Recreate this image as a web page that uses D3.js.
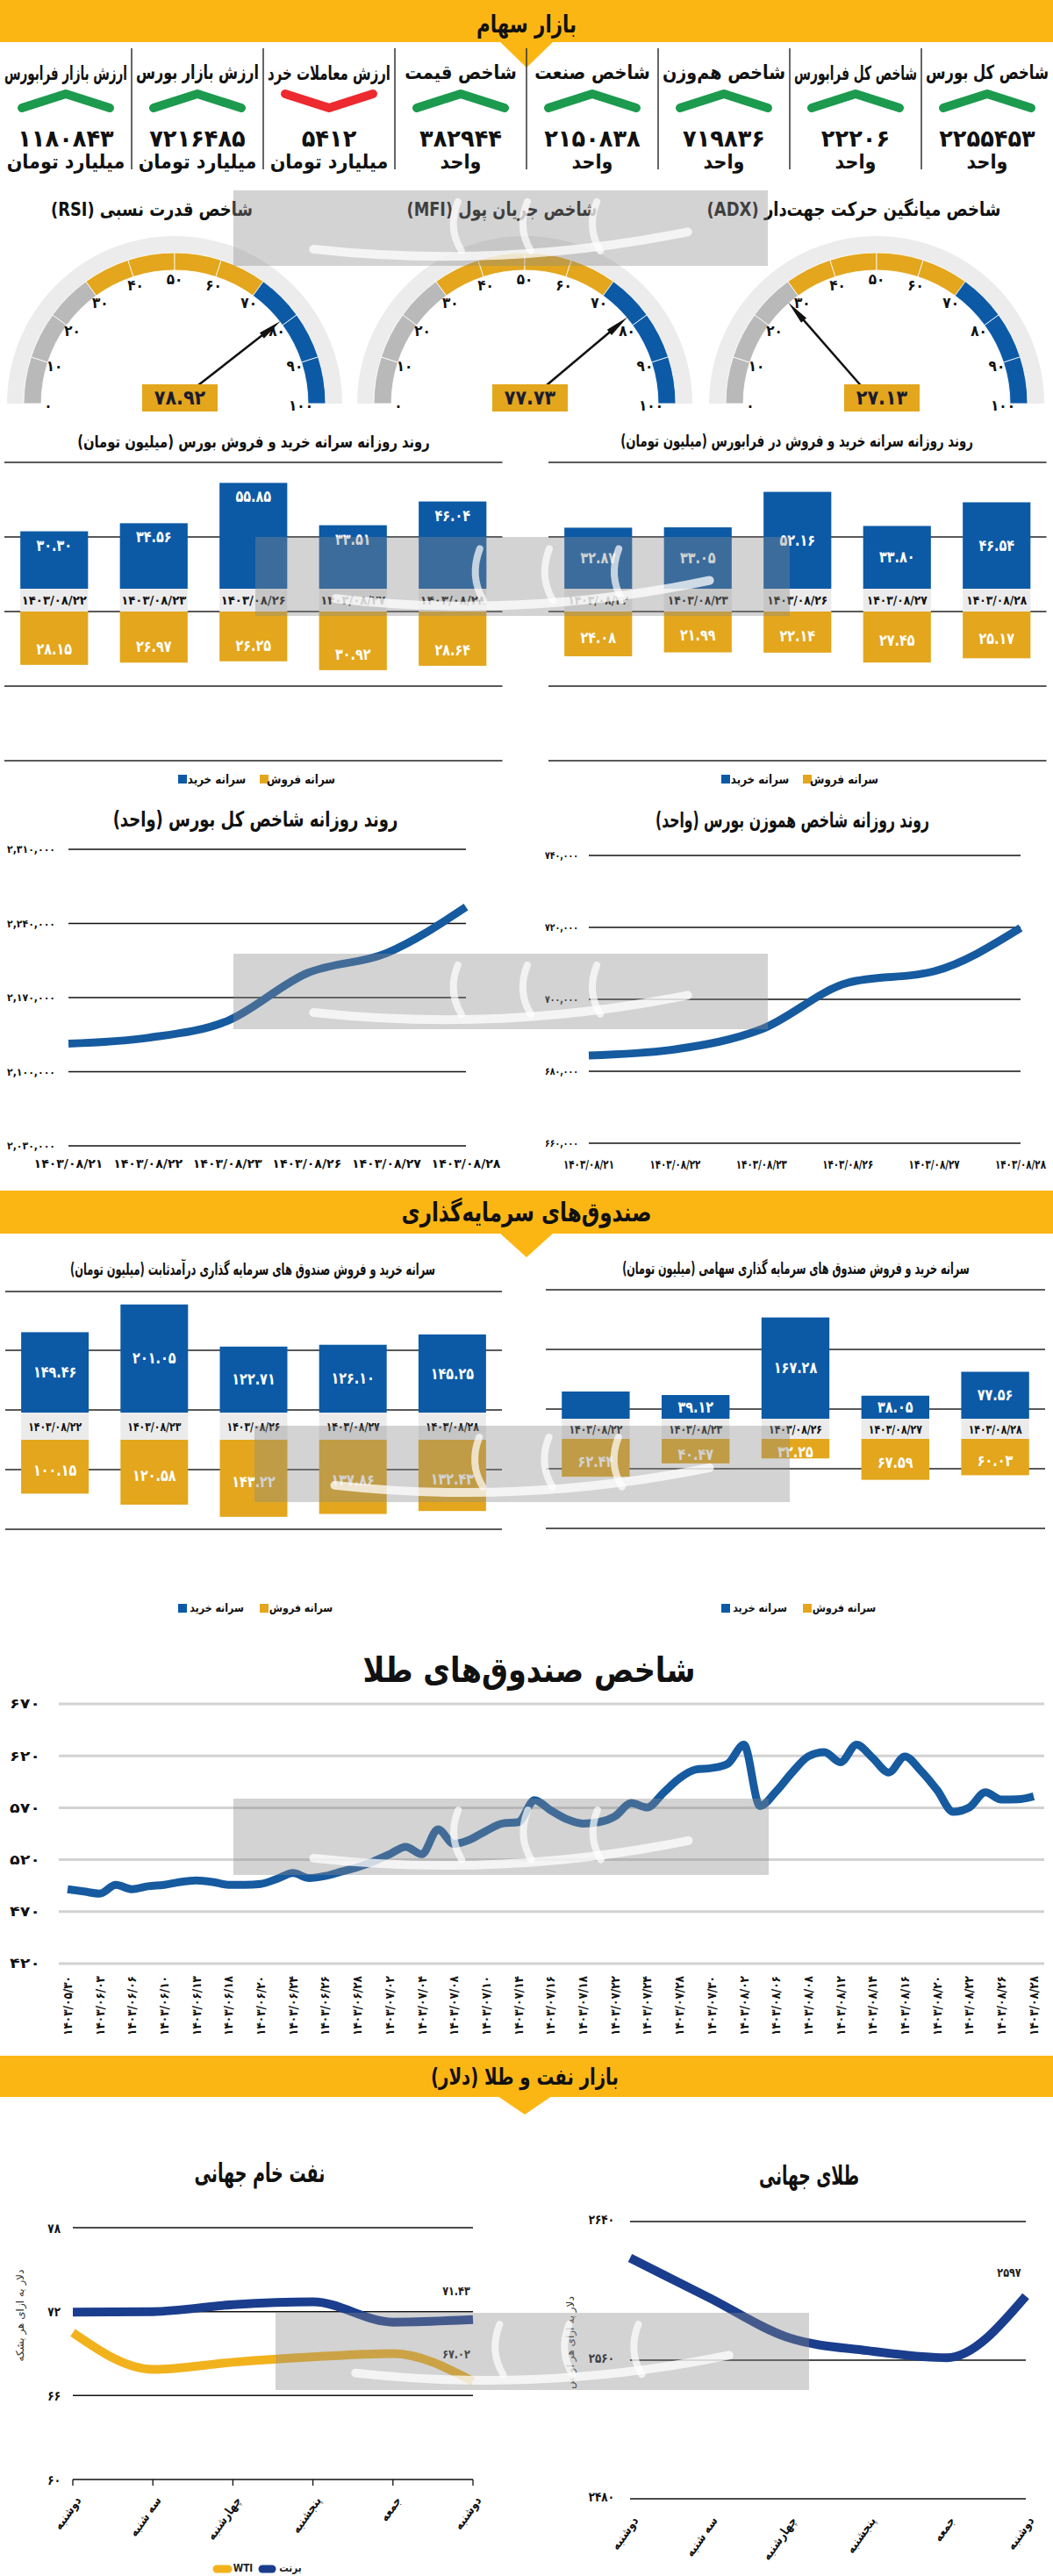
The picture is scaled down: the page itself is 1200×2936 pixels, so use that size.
<!DOCTYPE html>
<html><head><meta charset="utf-8">
<script src="https://cdn.jsdelivr.net/npm/d3@7"></script>
<style>
html,body{margin:0;padding:0;background:#fff;}
svg{display:block;}
text{font-family:"DejaVu Sans","Noto Sans",sans-serif;}
</style></head><body>
<svg id="c" width="1200" height="2936"></svg>
<script>
// ---------------- DATA ----------------
const kpiLabels = ["شاخص کل بورس","شاخص کل فرابورس","شاخص هم‌وزن","شاخص صنعت","شاخص قیمت","ارزش معاملات خرد","ارزش بازار بورس","ارزش بازار فرابورس"];
const kpiValues = [2255453, 22206, 719836, 2150838, 382944, 5412, 7216485, 1180843];
const kpiUnits = ["واحد","واحد","واحد","واحد","واحد","میلیارد تومان","میلیارد تومان","میلیارد تومان"];
const kpiTrend = ["up","up","up","up","up","down","up","up"];

const gaugeTitles = ["شاخص میانگین حرکت جهت‌دار (ADX)","شاخص جریان پول (MFI)","شاخص قدرت نسبی (RSI)"];
const gaugeValues = [27.13, 77.73, 78.92];
const gaugeTicks = [0,10,20,30,40,50,60,70,80,90,100];

const barDates = ["1403/08/22","1403/08/23","1403/08/26","1403/08/27","1403/08/28"];
const bourseBuy = [30.30, 34.56, 55.85, 33.51, 46.04];
const bourseSell = [28.15, 26.97, 26.25, 30.92, 28.64];
const faraBuy = [32.87, 33.05, 52.16, 33.80, 46.54];
const faraSell = [24.08, 21.99, 22.14, 27.45, 25.17];
const fixedBuy = [149.46, 201.05, 122.71, 126.10, 145.25];
const fixedSell = [100.15, 120.58, 143.22, 137.86, 132.43];
const equityBuy = [44.98, 39.12, 167.28, 38.05, 77.56];
const equitySell = [62.44, 40.47, 32.25, 67.59, 60.03];
const legendLabels = ["سرانه خرید","سرانه فروش"];

const lineDates = ["1403/08/21","1403/08/22","1403/08/23","1403/08/26","1403/08/27","1403/08/28"];
const tedpix = [2126500, 2132000, 2148000, 2193000, 2212000, 2255453];
const tedpixTicks = [2030000, 2100000, 2170000, 2240000, 2310000];
const eqIndex = [684400, 686100, 691700, 704600, 707800, 719836];
const eqIndexTicks = [660000, 680000, 700000, 720000, 740000];

const goldFundDates = ["1403/05/30","1403/06/03","1403/06/06","1403/06/10","1403/06/13","1403/06/18","1403/06/20","1403/06/24","1403/06/26","1403/06/28","1403/07/02","1403/07/04","1403/07/08","1403/07/10","1403/07/14","1403/07/16","1403/07/18","1403/07/22","1403/07/24","1403/07/28","1403/07/30","1403/08/02","1403/08/06","1403/08/08","1403/08/12","1403/08/14","1403/08/16","1403/08/20","1403/08/22","1403/08/26","1403/08/28"];
const goldFundValues = [491.6,489.4,487.4,495.8,491.6,494.4,495.8,498.6,500,498.6,
  495.8,495.8,496.7,501.5,507.1,502.3,504.3,508.5,512.7,518.3,
  525.3,532.4,525.3,549.2,535.2,539.4,547.8,554.8,556.2,577.3,
  567.5,559,554.8,556.2,561.8,574.5,570.3,584.3,598.4,606.8,
  608.2,612.4,630.7,571.7,585.7,604,619.4,623.6,613.8,630.7,
  618,604,619.4,605.4,587.1,566.1,570.3,584.9,577.9,578.1,581];
const goldFundTicks = [420,470,520,570,620,670];

const weekDays = ["دوشنبه","سه شنبه","چهارشنبه","پنجشنبه","جمعه","دوشنبه"];
const brent = [71.96, 72.0, 72.5, 72.7, 71.25, 71.43];
const wti = [70.5, 67.87, 68.38, 68.76, 69.0, 67.02];
const oilTicks = [60, 66, 72, 78];
const goldPrice = [2619, 2596, 2573, 2565.5, 2561.4, 2597];
const goldTicks = [2480, 2560, 2640];

// ---------------- STYLE ----------------
const YEL="#fcb614", BLUE="#0c5aa6", GOLD="#e3a61c", GREY="#b9b9b9", HALO="#ececec",
      GREEN="#1c9a4e", RED="#ec2a2f", NAVY="#1b3d8d", LINE="#165a9f", WTIC="#f2b21c", BAND="#ebebeb";

const svg = d3.select("#c");
svg.append("rect").attr("width",1200).attr("height",2936).attr("fill","#fff");
const FA="۰۱۲۳۴۵۶۷۸۹";
const fa = s => String(s).replace(/[0-9]/g, d => FA[+d]);

function T(g, x, y, str, o={}) {
  const s = o.rtl ? "\u202B"+str+"\u202C" : str;
  const t = g.append("text")
    .attr("text-anchor", o.anchor||"middle")
    .attr("dominant-baseline","central")
    .style("font-size",(o.size||14)+"px")
    .style("font-weight",o.weight||"bold")
    .attr("fill",o.fill||"#111")
    .text(s);
  let sx = o.sx||1;
  const w = t.node().getComputedTextLength();
  if (o.w && w>0) sx = o.w/w;
  if (o.maxW && w*sx>o.maxW) sx = o.maxW/w;
  t.attr("transform",`translate(${x},${y})`+(o.rot?` rotate(${o.rot})`:"")+` scale(${sx},1)`);
  if (o.op!=null) t.attr("opacity",o.op);
  return t;
}

// ---------------- HEADERS ----------------
function header(y0,y1,apex,cx,title,size,w,ty){
  svg.append("rect").attr("x",0).attr("y",y0).attr("width",1200).attr("height",y1-y0).attr("fill",YEL);
  svg.append("path").attr("d",`M${cx-31},${y1-1}L${cx+31},${y1-1}L${cx},${apex}Z`).attr("fill",YEL);
  T(svg,cx,ty,title,{size,w,rtl:true});
}
header(0,48,77,600,"بازار سهام",28,114,27);
header(1357,1406,1433,600,"صندوق‌های سرمایه‌گذاری",30,285,1381);
header(2343,2390,2410,598,"بازار نفت و طلا (دلار)",26,214,2367);

// ---------------- KPI ROW ----------------
d3.range(1,8).forEach(k=>svg.append("line").attr("x1",150*k).attr("x2",150*k).attr("y1",55).attr("y2",193).attr("stroke","#333").attr("stroke-width",1.5));
kpiLabels.forEach((lab,i)=>{
  const cx = 1125-150*i;
  T(svg,cx,83,lab,{size:22,sx:0.88,maxW:140,rtl:true});
  const up = kpiTrend[i]==="up";
  svg.append("path").attr("d", up?`M${cx-50},123L${cx},107L${cx+50},123`:`M${cx-50},107L${cx},123L${cx+50},107`)
    .attr("fill","none").attr("stroke",up?GREEN:RED).attr("stroke-width",10)
    .attr("stroke-linecap","round").attr("stroke-linejoin","round");
  T(svg,cx,158,fa(kpiValues[i]),{size:27,sx:0.95});
  T(svg,cx,184,kpiUnits[i],{size:23,sx:0.9,rtl:true});
});

// ---------------- GAUGES ----------------
const gaugeCx=[999,598,199], gaugeCy=460;
const ang = d3.scaleLinear().domain([0,100]).range([-Math.PI/2,Math.PI/2]);
const gaugeTitleW=[335,217,230];
gaugeValues.forEach((v,i)=>{
  const cx=gaugeCx[i];
  T(svg,cx-26,238,gaugeTitles[i],{size:22,w:gaugeTitleW[i],rtl:true});
  const g=svg.append("g").attr("transform",`translate(${cx},${gaugeCy})`);
  g.append("path").attr("d",d3.arc()({innerRadius:172,outerRadius:191,startAngle:-Math.PI/2,endAngle:Math.PI/2})).attr("fill",HALO);
  d3.range(0,100,10).forEach(s=>{
    g.append("path").attr("d",d3.arc()({innerRadius:152,outerRadius:172,startAngle:ang(s),endAngle:ang(s+10)}))
      .attr("fill",s<30?GREY:(s<70?GOLD:BLUE)).attr("stroke","#fff").attr("stroke-width",0.8);
  });
  gaugeTicks.forEach(t=>{
    const a=ang(t);
    T(g,144*Math.sin(a),-144*Math.cos(a)+2,fa(t),{size:17,sx:0.9});
  });
  const a=ang(v), ux=Math.sin(a), uy=-Math.cos(a), px=-uy, py=ux;
  g.append("line").attr("x1",0).attr("y1",0).attr("x2",ux*132).attr("y2",uy*132).attr("stroke","#111").attr("stroke-width",2.5);
  g.append("path").attr("d",`M${ux*153},${uy*153}L${ux*126+px*4},${uy*126+py*4}L${ux*126-px*4},${uy*126-py*4}Z`).attr("fill","#111");
  g.append("rect").attr("x",-37).attr("y",-22).attr("width",86).attr("height",31).attr("fill",GOLD);
  T(g,6,-6.5,fa(v.toFixed(2)),{size:23,sx:0.9,fill:"#1b1b30"});
});

// ---------------- BAR CHARTS ----------------
function legend(cx,y,size){
  const cols=[BLUE,GOLD];
  [[-88,-44],[5,52]].forEach((p,j)=>{
    svg.append("rect").attr("x",cx+p[0]).attr("y",y-5).attr("width",10).attr("height",10).attr("fill",cols[j]);
    T(svg,cx+p[1],y,legendLabels[j],{size,sx:0.85,rtl:true});
  });
}
function barChart(o){
  const g=svg.append("g");
  const x=d3.scaleBand().domain(o.dates).range(o.xr).paddingInner(0.32).paddingOuter(0.16);
  const h=d3.scaleLinear().domain([0,o.max]).range([0,o.hmax]);
  const bw=x.bandwidth();
  g.selectAll("line.grid").data(o.grid).join("line").attr("class","grid")
    .attr("x1",o.xr[0]).attr("x2",o.xr[1]).attr("y1",d=>d).attr("y2",d=>d)
    .attr("stroke","#222").attr("stroke-width",1.3);
  T(g,o.titleX,o.titleY,o.title,{size:19,w:o.titleW,rtl:true});
  g.selectAll("rect.buy").data(o.buy).join("rect").attr("class","buy")
    .attr("x",(d,i)=>x(o.dates[i])).attr("width",bw)
    .attr("y",d=>o.base-h(d)).attr("height",d=>h(d)).attr("fill",BLUE);
  g.selectAll("rect.band").data(o.dates).join("rect").attr("class","band")
    .attr("x",d=>x(d)).attr("width",bw).attr("y",o.base).attr("height",o.bandBot-o.base).attr("fill",BAND);
  g.selectAll("rect.sell").data(o.sell).join("rect").attr("class","sell")
    .attr("x",(d,i)=>x(o.dates[i])).attr("width",bw)
    .attr("y",o.bandBot).attr("height",d=>h(d)).attr("fill",GOLD);
  o.dates.forEach(d=>T(g,x(d)+bw/2,(o.base+o.bandBot)/2,fa(d),{size:14,w:o.dateW}));
  o.buy.forEach((d,i)=>{
    if(o.hide && o.hide.includes(i)) return;
    const yy = o.mode==="top" ? o.base-h(d)+16 : o.base-h(d)/2;
    T(g,x(o.dates[i])+bw/2,yy,fa(d.toFixed(2)),{size:18,sx:0.8,fill:"#fff"});
  });
  o.sell.forEach((d,i)=>{
    const yy = o.mode==="top" ? o.bandBot+h(d)-18 : o.bandBot+h(d)/2+4;
    T(g,x(o.dates[i])+bw/2,yy,fa(d.toFixed(2)),{size:18,sx:0.8,fill:"#fff"});
  });
  legend(o.legX,o.legY,o.legSize);
}
barChart({dates:barDates,buy:bourseBuy,sell:bourseSell,xr:[5,572.5],grid:[527,612,697,782,867],
  base:671,bandBot:697,max:60,hmax:129.6,title:"روند روزانه سرانه خرید و فروش بورس (میلیون تومان)",
  titleX:289,titleY:503,titleW:402,dateW:74,mode:"top",legX:291,legY:888,legSize:14});
barChart({dates:barDates,buy:faraBuy,sell:faraSell,xr:[625,1192.5],grid:[527,612,697,782,867],
  base:671,bandBot:697,max:60,hmax:127,title:"روند روزانه سرانه خرید و فروش در فرابورس (میلیون تومان)",
  titleX:908,titleY:503,titleW:402,dateW:69,mode:"center",legX:910,legY:888,legSize:14});
barChart({dates:barDates,buy:fixedBuy,sell:fixedSell,xr:[6,572],grid:[1472,1539,1607,1675,1743],
  base:1610,bandBot:1641,max:200,hmax:122.6,title:"سرانه خرید و فروش صندوق های سرمایه گذاری درآمدثابت (میلیون تومان)",
  titleX:288,titleY:1446,titleW:416,dateW:61,mode:"center",legX:291,legY:1833,legSize:13});
barChart({dates:barDates,buy:equityBuy,sell:equitySell,xr:[622,1191],grid:[1470,1538,1606,1674,1742],
  base:1617,bandBot:1640,max:200,hmax:138,title:"سرانه خرید و فروش صندوق های سرمایه گذاری سهامی (میلیون تومان)",
  titleX:907,titleY:1446,titleW:396,dateW:61,mode:"center",hide:[0],legX:910,legY:1833,legSize:13});

// ---------------- LINE CHARTS ----------------
function lineChart(o){
  const g=svg.append("g");
  const x=d3.scalePoint().domain(d3.range(o.values.length)).range(o.xr);
  const y=d3.scaleLinear().domain(d3.extent(o.ticks)).range(o.yr);
  T(g,o.titleX,o.titleY,o.title,{size:24,w:o.titleW,rtl:true});
  o.ticks.forEach(t=>{
    g.append("line").attr("x1",o.xr[0]).attr("x2",o.xr[1]).attr("y1",y(t)).attr("y2",y(t)).attr("stroke","#111").attr("stroke-width",1.3);
    T(g,o.labelX,y(t),fa(d3.format(",")(t)),{size:12,anchor:"end",w:o.labelW});
  });
  o.dates.forEach((d,i)=>T(g,x(i),o.dateY,fa(d),{size:14,w:o.dateW}));
  g.append("path").datum(o.values)
    .attr("d",d3.line().x((d,i)=>x(i)).y(d=>y(d)).curve(d3.curveMonotoneX))
    .attr("fill","none").attr("stroke",LINE).attr("stroke-width",9);
}
lineChart({values:tedpix,ticks:tedpixTicks,dates:lineDates,xr:[78,531],yr:[1306,968],
  title:"روند روزانه شاخص کل بورس (واحد)",titleX:291,titleY:934,titleW:325,labelX:63,labelW:55,dateY:1326,dateW:79});
lineChart({values:eqIndex,ticks:eqIndexTicks,dates:lineDates,xr:[671,1163],yr:[1303,975],
  title:"روند روزانه شاخص هموزن بورس (واحد)",titleX:903,titleY:935,titleW:312,labelX:659,labelW:38,dateY:1327,dateW:58});

// ---------------- GOLD FUNDS INDEX ----------------
{
  const g=svg.append("g");
  const x=d3.scaleLinear().domain([0,goldFundValues.length-1]).range([77,1178]);
  const y=d3.scaleLinear().domain(d3.extent(goldFundTicks)).range([2238,1942]);
  T(g,603,1903,"شاخص صندوق‌های طلا",{size:40,w:379,rtl:true});
  goldFundTicks.forEach(t=>{
    g.append("line").attr("x1",67).attr("x2",1190).attr("y1",y(t)).attr("y2",y(t)).attr("stroke","#d2d2d2").attr("stroke-width",3);
    T(g,46,y(t),fa(t),{size:16,anchor:"end",w:35});
  });
  goldFundDates.forEach((d,k)=>T(g,x(2*k),2252,fa(d),{size:14,anchor:"end",rot:-90,w:68}));
  g.append("path").datum(goldFundValues)
    .attr("d",d3.line().x((d,i)=>x(i)).y(d=>y(d)).curve(d3.curveMonotoneX))
    .attr("fill","none").attr("stroke",LINE).attr("stroke-width",9).attr("stroke-linejoin","round");
}

// ---------------- OIL ----------------
{
  const g=svg.append("g");
  const x=d3.scalePoint().domain(d3.range(weekDays.length)).range([83,539]);
  const y=d3.scaleLinear().domain(d3.extent(oilTicks)).range([2826,2539]);
  T(g,296,2477,"نفت خام جهانی",{size:30,w:149,rtl:true});
  oilTicks.forEach(t=>{
    g.append("line").attr("x1",83).attr("x2",539).attr("y1",y(t)).attr("y2",y(t)).attr("stroke","#111").attr("stroke-width",1.5);
    T(g,69,y(t),fa(t),{size:15,anchor:"end",sx:0.8});
  });
  weekDays.forEach((d,i)=>{
    g.append("line").attr("x1",x(i)).attr("x2",x(i)).attr("y1",y(60)).attr("y2",y(60)+7).attr("stroke","#111").attr("stroke-width",1.3);
    T(g,x(i)+6,2847,d,{size:14,anchor:"end",rot:-55,sx:0.85});
  });
  T(g,23,2639,"دلار به ازای هر بشکه",{size:12,weight:"normal",rot:-90,fill:"#333",rtl:true});
  const ln=d3.line().x((d,i)=>x(i)).y(d=>y(d)).curve(d3.curveMonotoneX);
  g.append("path").datum(wti).attr("d",ln).attr("fill","none").attr("stroke",WTIC).attr("stroke-width",10);
  g.append("path").datum(brent).attr("d",ln).attr("fill","none").attr("stroke",NAVY).attr("stroke-width",10);
  const n=weekDays.length-1;
  T(g,x(n)-19,y(brent[n])-33,fa(brent[n].toFixed(2)),{size:14,sx:0.8,fill:"#222"});
  T(g,x(n)-19,y(wti[n])-31,fa(wti[n].toFixed(2)),{size:14,sx:0.8,fill:"#222"});
  [[243,264,WTIC,277,"WTI"],[295,314,NAVY,331,"برنت"]].forEach(l=>{
    g.append("line").attr("x1",l[0]+4).attr("x2",l[1]-4).attr("y1",2928).attr("y2",2928).attr("stroke",l[2]).attr("stroke-width",9).attr("stroke-linecap","round");
    T(g,l[3],2927,l[4],{size:13,sx:0.8,fill:"#222"});
  });
}

// ---------------- GOLD ----------------
{
  const g=svg.append("g");
  const x=d3.scalePoint().domain(d3.range(weekDays.length)).range([718,1169]);
  const y=d3.scaleLinear().domain(d3.extent(goldTicks)).range([2848,2532]);
  T(g,922,2480,"طلای جهانی",{size:30,w:114,rtl:true});
  goldTicks.forEach(t=>{
    g.append("line").attr("x1",718).attr("x2",1169).attr("y1",y(t)).attr("y2",y(t)).attr("stroke","#111").attr("stroke-width",1.5);
    T(g,700,y(t)-3,fa(t),{size:15,anchor:"end",sx:0.8});
  });
  weekDays.forEach((d,i)=>T(g,x(i)+6,2870,d,{size:14,anchor:"end",rot:-55,sx:0.85}));
  T(g,650,2670,"دلار به ازای هر اونس",{size:12,weight:"normal",rot:-90,fill:"#333",rtl:true});
  g.append("path").datum(goldPrice).attr("d",d3.line().x((d,i)=>x(i)).y(d=>y(d)).curve(d3.curveMonotoneX))
    .attr("fill","none").attr("stroke",NAVY).attr("stroke-width",10);
  const n=goldPrice.length-1;
  T(g,x(n)-19,y(goldPrice[n])-27,fa(goldPrice[n]),{size:14,sx:0.8,fill:"#222"});
}

// ---------------- WATERMARKS (decorative, no text) ----------------
[[266,217,875,303],[291,612,900,702],[266,1087,875,1173],[290,1625,900,1712],[266,2050,876,2137],[314,2636,922,2724]]
.forEach(b=>{
  const g=svg.append("g");
  const w=b[2]-b[0], hh=b[3]-b[1];
  g.append("rect").attr("x",b[0]).attr("y",b[1]).attr("width",w).attr("height",hh).attr("fill","#8c8c8c").attr("opacity",0.38);
  g.append("path")
    .attr("d",`M${b[0]+w*0.15},${b[1]+hh*0.78} Q${b[0]+w*0.5},${b[1]+hh*1.05} ${b[0]+w*0.85},${b[1]+hh*0.55}`)
    .attr("fill","none").attr("stroke","#fff").attr("stroke-width",10).attr("stroke-linecap","round").attr("opacity",0.75);
  [0.42,0.55,0.68].forEach(f=>{
    g.append("path").attr("d",`M${b[0]+w*f},${b[1]+hh*0.15} Q${b[0]+w*f-12},${b[1]+hh*0.5} ${b[0]+w*f+4},${b[1]+hh*0.8}`)
      .attr("fill","none").attr("stroke","#fff").attr("stroke-width",8).attr("stroke-linecap","round").attr("opacity",0.7);
  });
});
</script></body></html>
